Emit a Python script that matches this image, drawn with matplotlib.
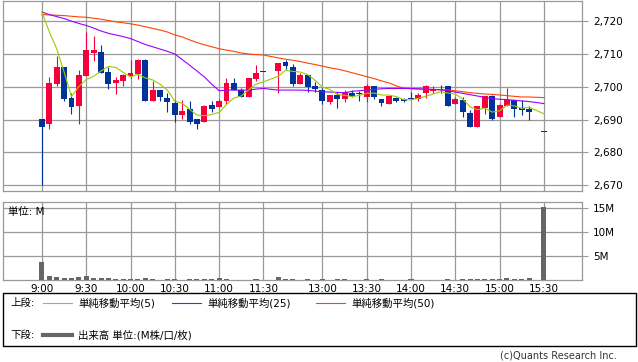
import numpy as np
import matplotlib
matplotlib.use('Agg')
import matplotlib.pyplot as plt
from matplotlib.patches import Rectangle
from matplotlib.lines import Line2D

plt.rcParams['font.family'] = ['DejaVu Sans', 'Noto Sans CJK JP']

# 5-minute bars, slot 0 = 9:00 ... slot 68 = 15:30 (None = no trade)
opens = [2690.1, 2688.6, 2700.9, 2706.0, 2696.5, 2694.2, 2703.3, 2710.3, 2710.5, 2704.5,
         2701.2, 2701.7, 2703.3, 2703.8, 2708.1, 2695.7, 2699.0, 2696.6, 2695.0, 2691.3,
         2693.2, 2690.1, 2689.3, 2694.4, 2693.9, 2695.7, 2701.1, 2699.0, 2696.9, 2702.3,
         2704.4, None, 2704.9, 2707.6, 2705.9, 2700.9, 2703.6, 2700.2, 2699.0, 2695.4,
         2697.4, 2696.3, 2698.2, 2698.2, 2697.0, 2700.2, 2696.4, 2694.9, 2696.6, 2696.2,
         2696.3, 2696.2, 2698.0, 2698.8, 2699.2, 2700.2, 2694.8, 2695.9, 2692.0, 2687.8,
         2693.6, 2697.1, 2690.8, 2694.1, 2696.1, 2693.4, 2693.3, None, 2686.2]
highs = [2690.1, 2702.9, 2709.5, 2706.0, 2698.0, 2705.0, 2716.6, 2715.4, 2712.8, 2705.9,
         2703.0, 2703.8, 2708.3, 2708.4, 2708.4, 2701.7, 2699.0, 2698.0, 2696.1, 2695.9,
         2695.7, 2690.1, 2694.4, 2695.7, 2696.4, 2702.6, 2702.6, 2699.6, 2702.7, 2706.6,
         2704.4, None, 2707.4, 2708.2, 2707.1, 2704.3, 2703.6, 2701.4, 2699.7, 2697.4,
         2698.5, 2699.0, 2699.0, 2698.8, 2701.0, 2700.2, 2696.4, 2697.3, 2696.9, 2696.6,
         2698.4, 2698.2, 2700.5, 2700.2, 2700.4, 2700.2, 2697.0, 2696.9, 2693.0, 2694.1,
         2697.1, 2697.6, 2694.9, 2699.6, 2696.1, 2695.9, 2694.3, None, 2686.2]
lows = [2670.0, 2687.0, 2700.2, 2695.7, 2691.7, 2688.7, 2703.3, 2707.8, 2704.3, 2699.4,
        2697.8, 2700.2, 2702.6, 2702.3, 2695.7, 2695.7, 2695.7, 2692.4, 2689.3, 2690.3,
        2688.7, 2687.0, 2689.3, 2692.4, 2693.9, 2694.9, 2699.0, 2696.9, 2696.9, 2701.8,
        2704.4, None, 2698.0, 2705.3, 2700.3, 2700.9, 2698.5, 2698.5, 2694.9, 2694.9,
        2693.4, 2695.4, 2697.0, 2695.7, 2695.4, 2696.4, 2694.2, 2694.7, 2695.4, 2695.4,
        2696.2, 2695.7, 2696.7, 2698.0, 2698.0, 2694.2, 2694.8, 2690.8, 2687.8, 2687.8,
        2691.8, 2689.8, 2690.8, 2694.1, 2690.8, 2691.5, 2690.0, None, 2686.2]
closes = [2687.8, 2701.1, 2706.0, 2696.2, 2693.9, 2703.5, 2711.2, 2711.2, 2704.3, 2700.9,
          2702.0, 2703.5, 2704.2, 2708.1, 2695.7, 2699.0, 2696.8, 2695.4, 2691.3, 2692.6,
          2689.3, 2688.6, 2694.1, 2693.3, 2695.7, 2701.1, 2699.0, 2696.9, 2702.7, 2704.3,
          2704.4, None, 2707.4, 2706.4, 2700.9, 2703.6, 2700.0, 2699.3, 2695.6, 2697.4,
          2696.3, 2698.5, 2697.1, 2697.9, 2700.2, 2697.0, 2695.2, 2697.1, 2695.6, 2695.8,
          2696.2, 2697.6, 2700.2, 2699.4, 2699.0, 2694.2, 2696.4, 2692.3, 2687.8, 2694.1,
          2697.1, 2690.1, 2694.4, 2696.1, 2693.3, 2693.0, 2692.3, None, 2686.2]
volume = [3.86, 0.93, 0.71, 0.43, 0.43, 0.64, 0.93, 0.43, 0.43, 0.43,
          0.21, 0.21, 0.21, 0.21, 0.43, 0.21, 0.07, 0.21, 0.21, 0.07,
          0.21, 0.21, 0.21, 0.21, 0.43, 0.21, 0.07, 0.07, 0.07, 0.21,
          0.07, 0, 0.64, 0.21, 0.21, 0.07, 0.21, 0.07, 0.21, 0.07,
          0.21, 0.21, 0.07, 0.07, 0.21, 0.07, 0.21, 0.07, 0.07, 0.07,
          0.21, 0.07, 0.07, 0.07, 0.07, 0.21, 0.07, 0.21, 0.21, 0.21,
          0.21, 0.21, 0.21, 0.43, 0.21, 0.21, 0.43, 0, 15.2]
ma5 = [2722.8, 2716.7, 2711.6, 2704.5, 2697.0, 2700.1, 2702.2, 2703.2, 2704.8, 2706.2,
       2705.9, 2704.4, 2703.0, 2703.8, 2702.7, 2702.1, 2700.8, 2699.0, 2695.6, 2695.0,
       2693.1, 2691.4, 2691.2, 2691.6, 2692.2, 2694.6, 2696.6, 2697.2, 2699.1, 2700.8,
       2701.5, None, 2703.2, 2705.0, 2704.7, 2704.5, 2703.7, 2702.0, 2699.9, 2699.2,
       2697.7, 2697.4, 2697.0, 2697.4, 2698.0, 2698.1, 2697.5, 2697.5, 2697.0, 2696.1,
       2696.0, 2696.5, 2697.1, 2697.8, 2698.5, 2698.1, 2697.8, 2696.3, 2693.9, 2693.0,
       2693.5, 2692.3, 2692.7, 2694.4, 2694.2, 2693.4, 2693.8, None, 2691.8]
ma25 = [2722.8, 2722.0, 2721.4, 2720.8, 2720.0, 2719.3, 2718.7, 2717.9, 2717.0, 2716.3,
        2715.8, 2715.3, 2714.7, 2713.8, 2712.9, 2712.2, 2711.5, 2710.8, 2710.0, 2708.3,
        2706.6, 2704.8, 2703.0, 2700.8, 2698.8, 2699.0, 2699.0, 2699.0, 2699.0, 2699.3,
        2699.5, None, 2699.0, 2699.0, 2699.0, 2699.0, 2698.9, 2698.7, 2698.5, 2698.4,
        2698.3, 2698.2, 2698.6, 2698.8, 2699.0, 2699.2, 2699.4, 2699.5, 2699.5, 2699.5,
        2699.5, 2699.4, 2699.3, 2699.2, 2699.1, 2698.8, 2698.4, 2698.0, 2697.6, 2697.2,
        2696.8, 2696.4, 2696.2, 2696.1, 2695.9, 2695.7, 2695.5, None, 2694.9]
ma50 = [2722.0, 2721.9, 2721.8, 2721.7, 2721.5, 2721.3, 2721.2, 2720.9, 2720.6, 2720.2,
        2719.8, 2719.5, 2719.2, 2718.8, 2718.3, 2717.8, 2717.3, 2716.7, 2715.8, 2715.2,
        2714.3, 2713.5, 2712.8, 2712.2, 2711.6, 2711.2, 2710.8, 2710.3, 2710.0, 2709.8,
        2709.7, None, 2708.8, 2708.4, 2708.1, 2707.7, 2707.2, 2706.8, 2706.3, 2705.8,
        2705.4, 2704.9, 2704.3, 2703.7, 2703.1, 2702.5, 2701.8, 2701.2, 2700.3, 2699.6,
        2699.4, 2699.3, 2699.2, 2699.2, 2699.1, 2699.0, 2698.8, 2698.5, 2698.2, 2698.0,
        2697.8, 2697.7, 2697.5, 2697.3, 2697.1, 2696.9, 2696.9, None, 2696.7]

tick_slots = [0, 6, 12, 18, 24, 30, 38, 44, 50, 56, 62, 68]
tick_labels = ['9:00', '9:30', '10:00', '10:30', '11:00', '11:30',
               '13:00', '13:30', '14:00', '14:30', '15:00', '15:30']
price_ticks = [2670, 2680, 2690, 2700, 2710, 2720]
vol_ticks = [5, 10, 15]

UP = '#f5003c'
DOWN = '#003399'
GRID = '#999999'

W, H = 638, 362
fig = plt.figure(figsize=(W / 100, H / 100), dpi=100)


def box(l, t, r, b):
    return [l / W, 1 - b / H, (r - l) / W, (b - t) / H]


ax = fig.add_axes(box(3, 0.5, 582, 190.5))
axv = fig.add_axes(box(3, 201.7, 582, 280))

xlim = (-5.28, 73.17)
for a in (ax, axv):
    a.set_xlim(*xlim)
    a.set_xticks(tick_slots)
    a.grid(True, color=GRID, lw=0.9)
    a.set_axisbelow(True)
    for s in a.spines.values():
        s.set_color(GRID)
        s.set_linewidth(0.9)
    a.yaxis.tick_right()
    a.tick_params(axis='y', length=4, color=GRID, labelsize=7.5, pad=4)
    a.tick_params(axis='x', length=0, labelsize=7.5, pad=3)

ax.set_xticklabels([])
axv.set_xticklabels(tick_labels)

# candles
for i in range(len(opens)):
    if opens[i] is None:
        continue
    o, h, l, c = opens[i], highs[i], lows[i], closes[i]
    col = UP if c > o else DOWN
    ax.vlines(i, l, h, color=col, lw=0.8, zorder=3)
    body = max(abs(c - o), 0.35)
    ax.bar(i, body, bottom=min(o, c), width=0.8, color=col, zorder=4)

x = np.arange(len(ma5))


def line(vals, color):
    xs = [i for i in x if vals[i] is not None]
    ys = [vals[i] for i in xs]
    ax.plot(xs, ys, color=color, lw=0.8, zorder=5)


line(ma50, '#ff4400')
line(ma25, '#9a00ff')
line(ma5, '#99cc00')

ax.set_ylim(2668.4, 2726.3)
ax.set_yticks(price_ticks)
ax.set_yticklabels(['{:,}'.format(v) for v in price_ticks])

axv.bar(x, volume, width=0.68, color='#666666', zorder=3)
axv.set_ylim(0, 16.4)
axv.set_yticks(vol_ticks)
axv.set_yticklabels(['{}M'.format(v) for v in vol_ticks])
axv.text(0.008, 0.93, '単位: M', transform=axv.transAxes, fontsize=7.5,
         va='top', ha='left')

# legend box
fig.patches.append(Rectangle((3 / W, 1 - 346 / H), 633 / W, 53 / H,
                             transform=fig.transFigure, fill=False,
                             edgecolor='black', lw=1))


def fx(px):
    return px / W


def fy(py):
    return 1 - py / H


fig.text(fx(10), fy(303), '上段:', fontsize=7.5, va='center')
items = [(43, '#99cc00', '単純移動平均(5)'),
         (172, '#9a00ff', '単純移動平均(25)'),
         (316, '#ff4400', '単純移動平均(50)')]
for x0, col, lab in items:
    fig.add_artist(Line2D([fx(x0), fx(x0 + 29)], [fy(303), fy(303)], color=col, lw=0.8))
    fig.text(fx(x0 + 35), fy(303), lab, fontsize=7.5, va='center')
fig.text(fx(10), fy(335), '下段:', fontsize=7.5, va='center')
fig.add_artist(Line2D([fx(43), fx(72)], [fy(335), fy(335)], color='#666666', lw=3))
fig.text(fx(78), fy(335), '出来高 単位:(M株/口/枚)', fontsize=7.5, va='center')

fig.text(fx(617), fy(356), '(c)Quants Research Inc.', fontsize=7, va='center', ha='right',
         color='#333333')

fig.savefig('out.png', dpi=100)
